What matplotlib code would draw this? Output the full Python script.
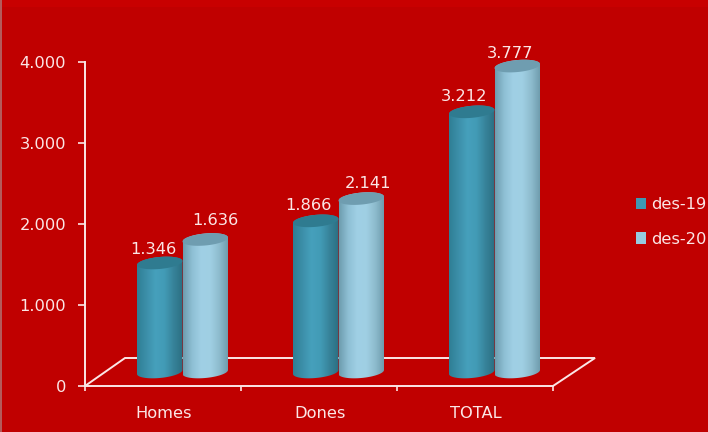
import numpy as np
import matplotlib
matplotlib.use("Agg")
import matplotlib.pyplot as plt
from matplotlib.patches import Patch, Polygon, Rectangle
from matplotlib.colors import LinearSegmentedColormap
from matplotlib.transforms import ScaledTranslation

categories = ["Homes", "Dones", "TOTAL"]
series_names = ["des-19", "des-20"]
des19 = [1346, 1866, 3212]
des20 = [1636, 2141, 3777]
yticks = [0, 1000, 2000, 3000, 4000]
ytick_labels = ["0", "1.000", "2.000", "3.000", "4.000"]
labels19 = ["1.346", "1.866", "3.212"]
labels20 = ["1.636", "2.141", "3.777"]

BG = "#C00000"
INK = "#FBE6E6"
FS = 11.7
W, H = 708, 432
DPI = 100
fig = plt.figure(figsize=(W / DPI, H / DPI), dpi=DPI, facecolor=BG)
L, R, Bt, Tp = 85, 553, 386, 62
ax = fig.add_axes([L / W, 1 - Bt / H, (R - L) / W, (Bt - Tp) / H], facecolor="none")

fig.add_artist(Rectangle((0, 1 - 7 / H), 1, 7 / H, transform=fig.transFigure, color="#C80000", lw=0))
fig.add_artist(Rectangle((0, 0), 1.5 / W, 1, transform=fig.transFigure, color="#B45A5A", lw=0))

px = 1 / DPI
tr = ax.transData + ScaledTranslation(19.5 * px, 14 * px, fig.dpi_scale_trans)

# floor outline, in axis units
x_per_px = 3 / (R - L)
y_per_px = 4000 / (Bt - Tp)
ax.add_patch(Polygon(
    [(0, 0), (40 * x_per_px, 28 * y_per_px), (510 * x_per_px, 28 * y_per_px), (3, 0)],
    closed=False, fill=False, ec=INK, lw=1.4, clip_on=False, zorder=1,
))

dark = LinearSegmentedColormap.from_list("d", ["#2F7F95", "#3C8FA9", "#46A0BC", "#429BB6", "#37839A", "#2B6F82"])
light = LinearSegmentedColormap.from_list("l", ["#6E9DAF", "#8FC0D5", "#A0D0E5", "#9FCFE3", "#8DBBCD", "#6D9AAB"])
top_dark, top_light = "#2F7B90", "#6F9DB0"

bar_w = 45.5 * x_per_px
ry = 6 * y_per_px
tilt = 4 * y_per_px / bar_w
centers = np.arange(len(categories)) + 0.5
theta = np.linspace(0, 2 * np.pi, 73)


def cylinder(x0, value, cmap, topc, z):
    xc = x0 + bar_w / 2
    # lower half of the base ellipse, then upper half of the top ellipse
    tb = np.linspace(np.pi, 2 * np.pi, 37)
    tt = np.linspace(0, np.pi, 37)
    xs = np.r_[xc + bar_w / 2 * np.cos(tb), xc + bar_w / 2 * np.cos(tt)]
    ys = np.r_[ry * np.sin(tb), value + ry * np.sin(tt)]
    ys = ys + tilt * (xs - xc)
    body = Polygon(np.c_[xs, ys], transform=tr, fc="none", ec="none", clip_on=False)
    ax.add_patch(body)
    grad = np.linspace(0, 1, 64).reshape(1, -1)
    im = ax.imshow(grad, cmap=cmap, aspect="auto",
                   extent=(x0, x0 + bar_w, -3 * ry, value + 3 * ry),
                   transform=tr, zorder=z, interpolation="bilinear")
    im.set_clip_path(body)
    im.set_clip_box(fig.bbox)
    ex = xc + bar_w / 2 * np.cos(theta)
    ey = value + ry * np.sin(theta) + tilt * (bar_w / 2 * np.cos(theta))
    ax.add_patch(Polygon(np.c_[ex, ey], transform=tr, fc=topc, ec="none", zorder=z + 0.1, clip_on=False))


# label nudges in points relative to the bar top
nudge19 = [(-4.5, 10), (-5, 11), (-5.5, 11)]
nudge20 = [(7, 14), (5, 11), (-5.5, 9)]

for i, c in enumerate(centers):
    cylinder(c - bar_w, des19[i], dark, top_dark, 2)
    cylinder(c, des20[i], light, top_light, 3)
    ax.annotate(labels19[i], xy=(c - bar_w / 2, des19[i]), xycoords=tr, xytext=nudge19[i],
                textcoords="offset points", ha="center", va="center", color=INK, fontsize=FS,
                zorder=5, annotation_clip=False)
    ax.annotate(labels20[i], xy=(c + bar_w / 2, des20[i]), xycoords=tr, xytext=nudge20[i],
                textcoords="offset points", ha="center", va="center", color=INK, fontsize=FS,
                zorder=5, annotation_clip=False)

ax.set_xlim(0, 3)
ax.set_ylim(0, 4000)
ax.set_aspect("auto")

for s in ("top", "right"):
    ax.spines[s].set_visible(False)
for s in ("left", "bottom"):
    ax.spines[s].set_color(INK)
    ax.spines[s].set_linewidth(1.4)
    ax.spines[s].set_zorder(1.5)

ax.set_yticks(yticks, ytick_labels)
ax.set_xticks([0, 1, 2, 3], [""] * 4)
ax.tick_params(axis="y", colors=INK, length=5, width=1.2, labelsize=FS, pad=8.5)
ax.tick_params(axis="x", colors=INK, length=3.6, width=1.2)
for c, name in zip(centers, categories):
    ax.annotate(name, xy=(c, 0), xytext=(0.5, -20), textcoords="offset points", ha="center",
                va="center", color=INK, fontsize=FS, annotation_clip=False)

handles = [Patch(fc="#3F98B2", ec="none"), Patch(fc="#97CBE0", ec="none")]
fig.legend(handles, series_names, loc="center left", bbox_to_anchor=(636 / W, 1 - 222 / H),
           frameon=False, labelcolor=INK, fontsize=FS, handlelength=0.62, handleheight=0.7,
           handletextpad=0.32, labelspacing=1.2, borderpad=0, borderaxespad=0)

fig.savefig("out.png", dpi=DPI, facecolor=BG)
